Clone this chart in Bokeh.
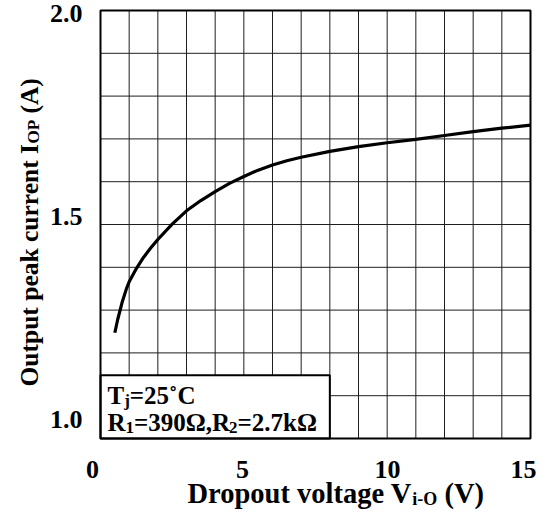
import math
from bokeh.plotting import figure
from bokeh.models import Label, Range1d
from bokeh.embed import file_html
from bokeh.resources import INLINE

# Dropout voltage V_i-o (V) against output peak current I_OP (A), Tj = 25 C
v_io = [0.5, 0.6, 0.75, 0.9, 1.0, 1.25, 1.5, 1.75, 2.0, 2.5, 3.0, 3.5, 4.0,
        4.5, 5.0, 5.5, 6.0, 6.5, 7.0, 8.0, 9.0, 10.0, 11.0, 12.0, 13.0, 14.0, 15.0]
i_op = [1.247, 1.278, 1.317, 1.349, 1.366, 1.397, 1.423, 1.445, 1.465, 1.501,
        1.532, 1.556, 1.577, 1.596, 1.612, 1.627, 1.639, 1.649, 1.657, 1.671,
        1.682, 1.691, 1.699, 1.708, 1.717, 1.725, 1.732]

x_ticks = [0, 5, 10, 15]
x_tick_labels = ["0", "5", "10", "15"]
y_ticks = [1.0, 1.5, 2.0]
y_tick_labels = ["1.0", "1.5", "2.0"]
x_grid = list(range(0, 16))
y_grid = [round(1 + 0.1 * k, 1) for k in range(11)]

W, H = 543, 512
# plotting area inside the canvas (pixels from the top-left corner)
PL, PR, PT, PB = 100, 530, 10, 438
X0, X1, Y0, Y1 = 0.0, 15.0, 1.0, 2.0

FONT = "Liberation Serif"
BASE_SHIFT = 0.41  # anchor-to-baseline distance of the svg text, in em

# advance widths of Times-style bold glyphs, in em
TB = {" ": .25, "(": .333, ")": .333, "-": .333, ".": .25, ",": .25, "=": .57,
      "A": .722, "C": .722, "D": .722, "I": .389, "O": .778, "P": .611,
      "R": .722, "T": .667, "V": .722, "a": .5, "c": .444, "e": .444, "g": .5,
      "i": .278, "j": .333, "k": .556, "l": .278, "n": .556, "o": .5, "p": .556,
      "r": .444, "t": .333, "u": .556, "v": .5, "\u03a9": .76, "\u02da": .333}
for d in "0123456789":
    TB[d] = .5


def text_w(s, size):
    return sum(TB.get(c, .5) for c in s) * size


def dx(px):
    return X0 + (px - PL) * (X1 - X0) / (PR - PL)


def dy(py):
    return Y0 + (PB - py) * (Y1 - Y0) / (PB - PT)


# the frame fills the whole canvas so that titles can sit outside the grid
p = figure(width=W, height=H, output_backend="svg", toolbar_location=None,
           x_range=Range1d(dx(0), dx(W)), y_range=Range1d(dy(H), dy(0)),
           min_border=0)
p.xaxis.visible = False
p.yaxis.visible = False
p.xgrid.visible = False
p.ygrid.visible = False
p.outline_line_color = None
p.background_fill_color = "white"
p.border_fill_color = "white"

GRID = "#1e1e1e"
p.segment(x0=x_grid, y0=[Y0] * len(x_grid), x1=x_grid, y1=[Y1] * len(x_grid),
          line_color=GRID, line_width=1)
p.segment(x0=[X0] * len(y_grid), y0=y_grid, x1=[X1] * len(y_grid), y1=y_grid,
          line_color=GRID, line_width=1)

p.line(v_io, i_op, line_color="black", line_width=3.2, line_join="round")

# condition box in the lower-left corner of the grid
p.quad(left=[0], right=[8], bottom=[1.0], top=[1.148],
       fill_color="white", line_color="black", line_width=2)

# plot border
p.quad(left=[X0], right=[X1], bottom=[Y0], top=[Y1],
       fill_color=None, line_color="black", line_width=2)


def label(px, base, s, size, align="left", angle=0.0):
    # px, base: pixel position of the text start and its baseline
    if angle:
        x, y = px - BASE_SHIFT * size, base
    else:
        x, y = px, base - BASE_SHIFT * size
    p.add_layout(Label(x=dx(x), y=dy(y), text=s, text_font=FONT,
                       text_font_style="bold", text_font_size=f"{size}px",
                       text_align=align, text_baseline="alphabetic",
                       text_color="black", angle=angle))


def split_lead(s, size):
    # svg drops leading blanks, so turn them into an explicit advance
    body = s.lstrip(" ")
    return body, text_w(s[:len(s) - len(body)], size)


def runs_h(x, base, runs):
    for s, size, low in runs:
        body, gap = split_lead(s, size)
        x += gap
        label(x, base + low, body, size)
        x += text_w(body, size)


def runs_v(base_x, y, runs):
    for s, size, low in runs:
        body, gap = split_lead(s, size)
        y -= gap
        label(base_x + low, y, body, size, angle=math.pi / 2)
        y -= text_w(body, size)


# tick labels
TICK = 26
x_tick_px = {"0": 92, "5": 242, "10": 387, "15": 523}
for t, s in zip(x_ticks, x_tick_labels):
    label(x_tick_px[s], 480, s, TICK, align="center")
y_base = {"1.0": 430, "1.5": 227, "2.0": 24}
for t, s in zip(y_ticks, y_tick_labels):
    label(82, y_base[s], s, TICK, align="right")

SUB = 17
# axis titles
runs_h(187, 505, [("Dropout voltage V", 28.5, 0), ("i-O", 18, 1), (" (V)", 28.5, 0)])
runs_v(39, 386, [("Output peak current I", 25.5, 0), ("OP", SUB, 1), (" (A)", 25.5, 0)])

# operating conditions
runs_h(107, 405, [("T", 25, 0), ("j", SUB, 2), ("=25\u02daC", 25, 0)])
runs_h(107, 432, [("R", 25, 0), ("1", SUB, 2), ("=390\u03a9,R", 25, 0),
                  ("2", SUB, 2), ("=2.7k\u03a9", 25, 0)])

open("out.html", "w").write(file_html(p, INLINE))
